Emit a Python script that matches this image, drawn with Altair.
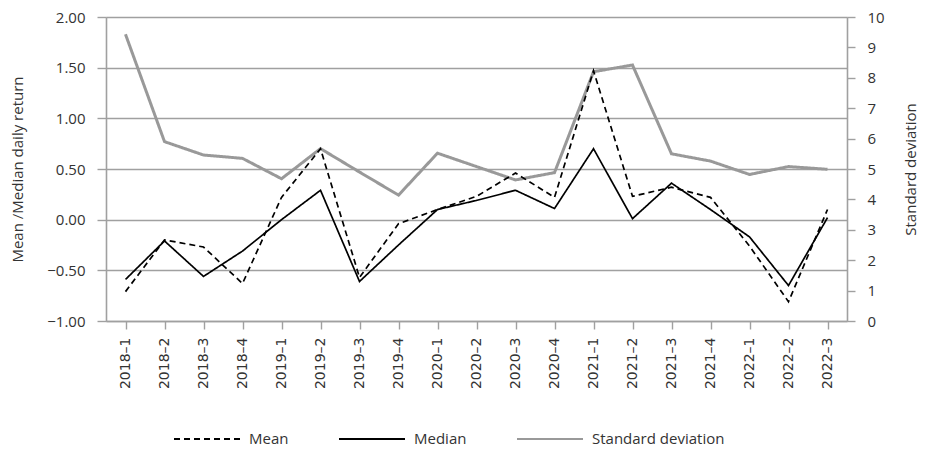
import altair as alt
import pandas as pd

quarters = ["2018–1", "2018–2", "2018–3", "2018–4", "2019–1", "2019–2", "2019–3", "2019–4",
            "2020–1", "2020–2", "2020–3", "2020–4", "2021–1", "2021–2", "2021–3", "2021–4",
            "2022–1", "2022–2", "2022–3"]
mean_vals = [-0.71, -0.20, -0.27, -0.63, 0.22, 0.70, -0.57, -0.04,
             0.10, 0.23, 0.46, 0.22, 1.47, 0.23, 0.32, 0.22,
             -0.26, -0.81, 0.10]
median_vals = [-0.59, -0.21, -0.56, -0.31, 0.00, 0.29, -0.61, -0.25,
               0.10, 0.19, 0.29, 0.11, 0.70, 0.01, 0.36, 0.10,
               -0.17, -0.65, 0.02]
std_vals = [9.43, 5.90, 5.46, 5.35, 4.68, 5.67, 4.90, 4.14,
            5.52, 5.08, 4.64, 4.88, 8.20, 8.42, 5.50, 5.26,
            4.82, 5.08, 4.99]

series_names = ["Mean", "Median", "Standard deviation"]
left_ticks = [-1.0, -0.5, 0.0, 0.5, 1.0, 1.5, 2.0]
right_ticks = list(range(0, 11))

df = pd.DataFrame({
    "quarter": quarters,
    "Mean": mean_vals,
    "Median": median_vals,
    "Standard deviation": std_vals,
})

GRAY = "#a0a0a0"
TEXT = "#333333"
FONT = "Open Sans"

color_scale = alt.Scale(domain=series_names, range=["#000000", "#000000", "#999999"])
dash_scale = alt.Scale(domain=series_names, range=[[6, 4], [1, 0], [1, 0]])

legend = alt.Legend(
    title=None, orient="none", direction="horizontal",
    legendX=67, legendY=388,
    symbolType="stroke", symbolSize=4356, symbolStrokeWidth=2,
    labelFont=FONT, labelFontSize=15, labelColor=TEXT,
    labelOffset=8, columnPadding=46,
)

x_enc = alt.X(
    "quarter:N", sort=quarters, title=None,
    scale=alt.Scale(type="point", padding=0.5),
    axis=alt.Axis(
        labelAngle=270, labelFont="DejaVu Sans", labelFontSize=14, labelColor=TEXT,
        labelPadding=8, tickSize=8, tickColor=GRAY, domainColor=GRAY,
        domainWidth=1.6, tickWidth=1.4, grid=False, labelBaseline="middle", labelAlign="right",
    ),
)

color_enc = alt.Color("series:N", scale=color_scale, legend=legend)
dash_enc = alt.StrokeDash("series:N", scale=dash_scale, legend=legend)

left = alt.Chart(df).transform_fold(
    ["Mean", "Median"], as_=["series", "value"]
).mark_line(strokeWidth=1.7).encode(
    x=x_enc,
    y=alt.Y(
        "value:Q", title="Mean /Median daily return",
        scale=alt.Scale(domain=[-1, 2], nice=False, zero=False),
        axis=alt.Axis(
            orient="left", values=left_ticks, format=".2f", grid=True,
            gridColor=GRAY, gridWidth=1.6, domainColor=GRAY, domainWidth=1.6,
            tickColor=GRAY, tickSize=9, tickWidth=1.4, labelPadding=12,
            labelFont=FONT, labelFontSize=15, labelColor=TEXT,
            titleFont=FONT, titleFontSize=15, titleFontWeight="normal", titleColor=TEXT,
            titleX=-89, titleY=152, titleAngle=270, titleBaseline="middle", titleAlign="center",
        ),
    ),
    color=color_enc,
    strokeDash=dash_enc,
)

right = alt.Chart(df).transform_fold(
    ["Standard deviation"], as_=["series", "value"]
).mark_line(strokeWidth=3).encode(
    x=x_enc,
    y=alt.Y(
        "value:Q", title="Standard deviation",
        scale=alt.Scale(domain=[0, 10], nice=False),
        axis=alt.Axis(
            orient="right", values=right_ticks, format="d", grid=False,
            domainColor=GRAY, domainWidth=1.6,
            tickColor=GRAY, tickSize=8, tickWidth=1.4, labelPadding=12,
            labelFont=FONT, labelFontSize=15, labelColor=TEXT,
            titleFont=FONT, titleFontSize=15, titleFontWeight="normal", titleColor=TEXT,
            titleX=63, titleY=152, titleAngle=270, titleBaseline="middle", titleAlign="center",
        ),
    ),
    color=color_enc,
    strokeDash=dash_enc,
)

chart = alt.layer(right, left).resolve_scale(y="independent").properties(
    width=741, height=304,
    padding={"left": 98, "top": 9, "right": 72, "bottom": 129},
    autosize=alt.AutoSizeParams(type="none"),
).configure_view(stroke=None).configure(background="white")

chart.save("out.html", embed_options={"renderer": "svg", "actions": False})
